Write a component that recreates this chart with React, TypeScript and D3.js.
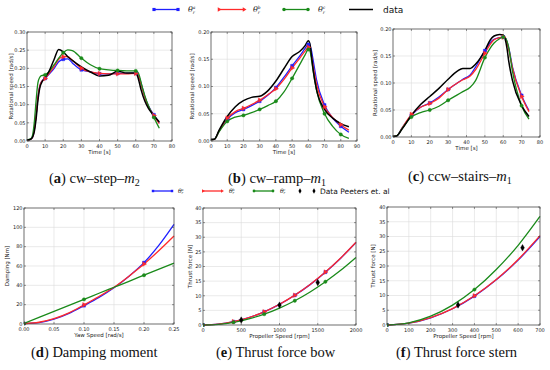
import React from 'react';
import * as d3 from 'd3';

// ---------- DATA ----------
const stepTime = [0, 2, 3, 4, 5, 6, 7, 8, 10, 12, 15, 17.5, 20, 22.5, 25, 30, 35, 40, 45, 50, 55, 60, 61, 62, 63, 65, 67, 70, 73];
const stepData = [0.003, 0.005, 0.01, 0.025, 0.06, 0.11, 0.145, 0.16, 0.175, 0.19, 0.225, 0.252, 0.245, 0.232, 0.222, 0.204, 0.19, 0.179, 0.181, 0.192, 0.187, 0.187, 0.178, 0.16, 0.14, 0.11, 0.09, 0.07, 0.052];
const stepThetaA = [0.002, 0.005, 0.01, 0.03, 0.07, 0.12, 0.15, 0.163, 0.172, 0.183, 0.2, 0.218, 0.225, 0.226, 0.215, 0.196, 0.19, 0.185, 0.185, 0.186, 0.186, 0.187, 0.183, 0.174, 0.158, 0.122, 0.097, 0.072, 0.05];
const stepThetaB = [0.002, 0.005, 0.01, 0.03, 0.07, 0.12, 0.15, 0.163, 0.172, 0.185, 0.205, 0.225, 0.232, 0.232, 0.222, 0.2, 0.19, 0.186, 0.185, 0.185, 0.185, 0.186, 0.182, 0.172, 0.155, 0.12, 0.095, 0.07, 0.048];
const stepThetaC = [0.003, 0.006, 0.015, 0.05, 0.11, 0.16, 0.175, 0.18, 0.182, 0.19, 0.21, 0.228, 0.243, 0.251, 0.249, 0.228, 0.21, 0.199, 0.196, 0.194, 0.193, 0.193, 0.19, 0.18, 0.16, 0.125, 0.097, 0.065, 0.035];

const rampTime = [0, 2, 5, 10, 15, 20, 25, 30, 35, 40, 45, 50, 55, 58, 60, 61, 62, 63, 65, 70, 75, 80, 85];
const rampData = [0.003, 0.003, 0.02, 0.045, 0.063, 0.074, 0.08, 0.082, 0.092, 0.11, 0.133, 0.155, 0.165, 0.175, 0.184, 0.178, 0.155, 0.13, 0.095, 0.058, 0.042, 0.032, 0.026];
const rampThetaA = [0.002, 0.003, 0.018, 0.04, 0.052, 0.058, 0.065, 0.073, 0.084, 0.098, 0.117, 0.138, 0.157, 0.17, 0.177, 0.175, 0.165, 0.148, 0.113, 0.066, 0.042, 0.027, 0.016];
const rampThetaB = [0.002, 0.003, 0.018, 0.042, 0.054, 0.06, 0.067, 0.075, 0.085, 0.096, 0.113, 0.134, 0.153, 0.165, 0.172, 0.168, 0.155, 0.137, 0.105, 0.063, 0.043, 0.03, 0.02];
const rampThetaC = [0.002, 0.003, 0.017, 0.036, 0.044, 0.047, 0.052, 0.058, 0.065, 0.073, 0.09, 0.115, 0.142, 0.158, 0.168, 0.165, 0.148, 0.128, 0.094, 0.05, 0.027, 0.012, 0.005];

const stairsTime = [0, 2, 5, 10, 15, 20, 25, 30, 35, 38, 42, 45, 50, 53, 55, 58, 60, 61, 62, 63, 65, 70, 74];
const stairsData = [0.001, 0.002, 0.015, 0.04, 0.06, 0.075, 0.09, 0.107, 0.122, 0.127, 0.127, 0.135, 0.16, 0.18, 0.187, 0.19, 0.189, 0.182, 0.165, 0.14, 0.105, 0.058, 0.038];
const stairsThetaA = [0.001, 0.002, 0.017, 0.04, 0.055, 0.063, 0.074, 0.088, 0.1, 0.107, 0.115, 0.13, 0.16, 0.175, 0.181, 0.184, 0.185, 0.184, 0.177, 0.165, 0.13, 0.077, 0.049];
const stairsThetaB = [0.001, 0.002, 0.017, 0.042, 0.055, 0.062, 0.072, 0.088, 0.1, 0.106, 0.113, 0.125, 0.155, 0.172, 0.18, 0.184, 0.185, 0.183, 0.175, 0.162, 0.128, 0.075, 0.047];
const stairsThetaC = [0.001, 0.002, 0.016, 0.037, 0.045, 0.05, 0.057, 0.068, 0.078, 0.084, 0.092, 0.105, 0.147, 0.165, 0.174, 0.182, 0.185, 0.184, 0.178, 0.165, 0.122, 0.058, 0.033];
const timeMarkers = [10, 20, 30, 40, 50, 60, 70, 80];

const dampSpeed = [0, 0.025, 0.05, 0.075, 0.1, 0.125, 0.15, 0.175, 0.2, 0.225, 0.25];
const dampThetaA = [0.5, 1.5, 5, 11, 19, 27.5, 37.5, 49.5, 63.5, 81.5, 103];
const dampThetaB = [0.5, 1.8, 5.5, 11.5, 19.8, 28.5, 38, 49.5, 62, 76, 91];
const dampThetaC = [0.5, 6.8, 13, 19.3, 25.5, 31.8, 38, 44.2, 50.5, 56.8, 63];
const dampMarkers = [0, 0.1, 0.2];

const bowRpm = [0, 200, 400, 600, 800, 1000, 1200, 1400, 1600, 1800, 2000];
const bowThetaA = [0, 0.28, 1.13, 2.53, 4.5, 7.05, 10.15, 13.8, 18.05, 22.85, 28.2];
const bowThetaB = [0, 0.28, 1.15, 2.55, 4.52, 7.08, 10.2, 13.85, 18.1, 22.9, 28.3];
const bowThetaC = [0, 0.23, 0.93, 2.1, 3.7, 5.8, 8.3, 11.3, 14.8, 18.7, 23.1];
const bowMarkers = [0, 400, 800, 1200, 1600];
const bowDataRpm = [500, 1000, 1500];
const bowDataThrust = [1.7, 6.8, 14.5];

const sternRpm = [0, 100, 200, 300, 400, 500, 600, 700];
const sternThetaA = [0, 0.61, 2.45, 5.5, 9.8, 15.3, 22.0, 30.0];
const sternThetaB = [0, 0.62, 2.5, 5.55, 9.9, 15.4, 22.2, 30.3];
const sternThetaC = [0, 0.75, 3.0, 6.75, 12.0, 18.8, 27.0, 36.8];
const sternMarkers = [0, 400];
const sternDataRpm = [325, 620];
const sternDataThrust = [6.8, 26.2];

const timeTicks80 = [0, 10, 20, 30, 40, 50, 60, 70, 80];
const timeTicks90 = [0, 10, 20, 30, 40, 50, 60, 70, 80, 90];
const speedTicks30 = [0, 0.05, 0.1, 0.15, 0.2, 0.25, 0.3];
const speedTicks20 = [0, 0.05, 0.1, 0.15, 0.2];
const yawTicks = [0, 0.05, 0.1, 0.15, 0.2, 0.25];
const dampTicks = [0, 20, 40, 60, 80, 100, 120];
const bowTicks = [0, 500, 1000, 1500, 2000];
const sternTicks = [0, 100, 200, 300, 400, 500, 600, 700];
const thrustTicks = [0, 5, 10, 15, 20, 25, 30, 35, 40];

// ---------- STYLE ----------
const BLUE = '#1f1fff';
const RED = '#ff2a2a';
const GREEN = '#1a8a1a';
const BLACK = '#000000';
const SANS = 'DejaVu Sans, sans-serif';
const SERIF = 'Liberation Serif, serif';

type Shape = 'square' | 'tri' | 'circle' | 'diamond';
type Series = {
  xs: number[];
  ys: number[];
  color: string;
  width?: number;
  line?: boolean;
  shape?: Shape;
  markAt?: number[];
};

function symbolPath(shape: Shape, size: number) {
  const t =
    shape === 'square' ? d3.symbolSquare :
    shape === 'circle' ? d3.symbolCircle :
    shape === 'diamond' ? d3.symbolDiamond : d3.symbolTriangle;
  return d3.symbol().type(t).size(size)() as string;
}

type PanelProps = {
  id: string;
  left: number; right: number; top: number; bottom: number;
  xDomain: [number, number]; yDomain: [number, number];
  xTicks: number[]; yTicks: number[];
  xFmt: (v: number) => string; yFmt: (v: number) => string;
  xLabel: string; yLabel: string; yLabelX: number;
  series: Series[];
};

function Panel(p: PanelProps) {
  const x = d3.scaleLinear().domain(p.xDomain).range([p.left, p.right]);
  const y = d3.scaleLinear().domain(p.yDomain).range([p.bottom, p.top]);
  const line = d3
    .line<number>()
    .x((_, i, arr) => 0)
    .curve(d3.curveMonotoneX);
  const mk = (s: Series) =>
    d3
      .line<[number, number]>()
      .x((d) => x(d[0]))
      .y((d) => y(d[1]))
      .curve(d3.curveMonotoneX)(s.xs.map((v, i) => [v, s.ys[i]] as [number, number])) as string;
  void line;
  const cx = (p.left + p.right) / 2;
  const cy = (p.top + p.bottom) / 2;
  return (
    <g>
      <defs>
        <clipPath id={'clip-' + p.id}>
          <rect x={p.left} y={p.top - 3} width={p.right - p.left + 3} height={p.bottom - p.top + 6} />
        </clipPath>
      </defs>
      <rect x={p.left} y={p.top} width={p.right - p.left} height={p.bottom - p.top} fill="#fff" />
      {p.xTicks.map((t) => (
        <line key={'gx' + t} x1={x(t)} x2={x(t)} y1={p.top} y2={p.bottom} stroke="#dcdcdc" strokeWidth={0.6} />
      ))}
      {p.yTicks.map((t) => (
        <line key={'gy' + t} x1={p.left} x2={p.right} y1={y(t)} y2={y(t)} stroke="#dcdcdc" strokeWidth={0.6} />
      ))}
      <g clipPath={`url(#clip-${p.id})`}>
        {p.series.map((s, i) =>
          s.line === false ? null : (
            <path key={'l' + i} d={mk(s)} fill="none" stroke={s.color} strokeWidth={s.width ?? 1.3} strokeLinejoin="round" />
          )
        )}
        {p.series.map((s, i) =>
          s.shape
            ? (s.markAt ?? s.xs).map((mx, j) => {
                const idx = s.xs.indexOf(mx);
                if (idx < 0) return null;
                const px = x(mx);
                const py = y(s.ys[idx]);
                const rot = s.shape === 'tri' ? ` rotate(90)` : '';
                return (
                  <path
                    key={'m' + i + '-' + j}
                    d={symbolPath(s.shape as Shape, s.shape === 'diamond' ? 12 : 9)}
                    transform={`translate(${px},${py})${rot}`}
                    fill={s.color}
                    stroke={s.color}
                    strokeWidth={0.4}
                  />
                );
              })
            : null
        )}
      </g>
      {p.xTicks.map((t) => (
        <g key={'tx' + t}>
          <line x1={x(t)} x2={x(t)} y1={p.bottom} y2={p.bottom - 2} stroke="#333" strokeWidth={0.5} />
          <line x1={x(t)} x2={x(t)} y1={p.top} y2={p.top + 2} stroke="#333" strokeWidth={0.5} />
          <text x={x(t)} y={p.bottom + 6.5} fontSize={5} fontFamily={SANS} textAnchor="middle" fill="#222">
            {p.xFmt(t)}
          </text>
        </g>
      ))}
      {p.yTicks.map((t) => (
        <g key={'ty' + t}>
          <line x1={p.left} x2={p.left + 2} y1={y(t)} y2={y(t)} stroke="#333" strokeWidth={0.5} />
          <line x1={p.right} x2={p.right - 2} y1={y(t)} y2={y(t)} stroke="#333" strokeWidth={0.5} />
          <text x={p.left - 1.5} y={y(t) + 1.8} fontSize={5} fontFamily={SANS} textAnchor="end" fill="#222">
            {p.yFmt(t)}
          </text>
        </g>
      ))}
      <rect x={p.left} y={p.top} width={p.right - p.left} height={p.bottom - p.top} fill="none" stroke="#444" strokeWidth={0.7} />
      <text x={cx} y={p.bottom + 12.5} fontSize={5.5} fontFamily={SANS} textAnchor="middle" fill="#222">
        {p.xLabel}
      </text>
      <text
        transform={`translate(${p.yLabelX},${cy}) rotate(-90)`}
        fontSize={5.5}
        fontFamily={SANS}
        textAnchor="middle"
        dominantBaseline="middle"
        fill="#222"
      >
        {p.yLabel}
      </text>
    </g>
  );
}

function Theta({ x, y, sup, size }: { x: number; y: number; sup: string; size: number }) {
  return (
    <g fontFamily="DejaVu Serif, serif" fontStyle="italic" fill="#222">
      <text x={x} y={y + size * 0.35} fontSize={size}>θ</text>
      <text x={x + size * 0.6} y={y - size * 0.05} fontSize={size * 0.55}>{sup}</text>
      <text x={x + size * 0.6} y={y + size * 0.55} fontSize={size * 0.55}>r</text>
    </g>
  );
}

function LegendLine({ x1, x2, y, color, shape, ms }: { x1: number; x2: number; y: number; color: string; shape: Shape; ms: number }) {
  const rot = shape === 'tri' ? ' rotate(90)' : '';
  return (
    <g>
      <line x1={x1} x2={x2} y1={y} y2={y} stroke={color} strokeWidth={1.3} />
      {[x1, x2].map((px) => (
        <path key={px} d={symbolPath(shape, ms)} transform={`translate(${px},${y})${rot}`} fill={color} />
      ))}
    </g>
  );
}

function Caption({ x, y, letter, text, sub }: { x: number; y: number; letter: string; text: string; sub?: string }) {
  return (
    <text x={x} y={y} fontFamily={SERIF} fontSize={14.5} fill="#111">
      (<tspan fontWeight="bold">{letter}</tspan>) {text}
      {sub ? (
        <>
          <tspan fontStyle="italic">m</tspan>
          <tspan fontSize={10} dy={3}>{sub}</tspan>
        </>
      ) : null}
    </text>
  );
}

const f2 = (v: number) => v.toFixed(2);
const f0 = (v: number) => String(v);

export default function App() {
  const timeSeries = (xs: number[], data: number[], a: number[], b: number[], c: number[]): Series[] => [
    { xs, ys: a, color: BLUE, shape: 'square', markAt: timeMarkers },
    { xs, ys: b, color: RED, shape: 'tri', markAt: timeMarkers },
    { xs, ys: c, color: GREEN, shape: 'circle', markAt: timeMarkers },
    { xs, ys: data, color: BLACK, width: 1.5 },
  ];
  return (
    <svg width={550} height={370} style={{ display: 'block', position: 'absolute', left: 0, top: 0 }}>
      <rect width={550} height={370} fill="#fff" />
      {/* top legend */}
      <LegendLine x1={154} x2={178} y={9.5} color={BLUE} shape="square" ms={10} />
      <Theta x={188} y={9.5} sup="a" size={8} />
      <LegendLine x1={219} x2={244} y={9.5} color={RED} shape="tri" ms={8} />
      <Theta x={253} y={9.5} sup="b" size={8} />
      <LegendLine x1={284} x2={308} y={9.5} color={GREEN} shape="circle" ms={10} />
      <Theta x={318} y={9.5} sup="c" size={8} />
      <line x1={349} x2={373} y1={9.5} y2={9.5} stroke={BLACK} strokeWidth={1.5} />
      <text x={383} y={12.5} fontSize={9} fontFamily={SANS} fill="#111">data</text>

      <Panel
        id="a" left={27} right={172} top={32} bottom={141}
        xDomain={[0, 80]} yDomain={[0, 0.3]} xTicks={timeTicks80} yTicks={speedTicks30}
        xFmt={f0} yFmt={f2} xLabel="Time [s]" yLabel="Rotational speed [rad/s]" yLabelX={11}
        series={timeSeries(stepTime, stepData, stepThetaA, stepThetaB, stepThetaC)}
      />
      <Panel
        id="b" left={211} right={357} top={32} bottom={141}
        xDomain={[0, 90]} yDomain={[0, 0.2]} xTicks={timeTicks90} yTicks={speedTicks20}
        xFmt={f0} yFmt={f2} xLabel="Time [s]" yLabel="Rotational speed [rad/s]" yLabelX={192}
        series={timeSeries(rampTime, rampData, rampThetaA, rampThetaB, rampThetaC)}
      />
      <Panel
        id="c" left={393} right={540} top={29} bottom={137}
        xDomain={[0, 80]} yDomain={[0, 0.2]} xTicks={timeTicks80} yTicks={speedTicks20}
        xFmt={f0} yFmt={f2} xLabel="Time [s]" yLabel="Rotational speed [rad/s]" yLabelX={375}
        series={timeSeries(stairsTime, stairsData, stairsThetaA, stairsThetaB, stairsThetaC)}
      />

      <Caption x={49} y={183} letter="a" text="cw–step–" sub="2" />
      <Caption x={228} y={183} letter="b" text="cw–ramp–" sub="1" />
      <Caption x={408} y={181} letter="c" text="ccw–stairs–" sub="1" />

      {/* second legend */}
      <LegendLine x1={153} x2={172} y={191} color={BLUE} shape="square" ms={6} />
      <Theta x={178} y={191} sup="a" size={6} />
      <LegendLine x1={203} x2={222} y={191} color={RED} shape="tri" ms={5} />
      <Theta x={229} y={191} sup="b" size={6} />
      <LegendLine x1={254} x2={273} y={191} color={GREEN} shape="circle" ms={6} />
      <Theta x={280} y={191} sup="c" size={6} />
      {[300, 314].map((px) => (
        <path key={px} d={symbolPath('diamond', 8)} transform={`translate(${px},191)`} fill={BLACK} />
      ))}
      <text x={320} y={193.5} fontSize={7.5} fontFamily={SANS} fill="#111">Data Peeters et. al</text>

      <Panel
        id="d" left={24} right={174} top={208} bottom={324}
        xDomain={[0, 0.25]} yDomain={[0, 120]} xTicks={yawTicks} yTicks={dampTicks}
        xFmt={f2} yFmt={f0} xLabel="Yaw Speed [rad/s]" yLabel="Damping [Nm]" yLabelX={7}
        series={[
          { xs: dampSpeed, ys: dampThetaA, color: BLUE, shape: 'square', markAt: dampMarkers },
          { xs: dampSpeed, ys: dampThetaB, color: RED, shape: 'tri', markAt: dampMarkers },
          { xs: dampSpeed, ys: dampThetaC, color: GREEN, shape: 'circle', markAt: dampMarkers },
        ]}
      />
      <Panel
        id="e" left={203} right={356} top={208} bottom={325}
        xDomain={[0, 2000]} yDomain={[0, 40]} xTicks={bowTicks} yTicks={thrustTicks}
        xFmt={f0} yFmt={f0} xLabel="Propeller Speed [rpm]" yLabel="Thrust force [N]" yLabelX={190}
        series={[
          { xs: bowRpm, ys: bowThetaA, color: BLUE, shape: 'square', markAt: bowMarkers },
          { xs: bowRpm, ys: bowThetaB, color: RED, shape: 'tri', markAt: bowMarkers },
          { xs: bowRpm, ys: bowThetaC, color: GREEN, shape: 'circle', markAt: bowMarkers },
          { xs: bowDataRpm, ys: bowDataThrust, color: BLACK, shape: 'diamond', line: false },
        ]}
      />
      <Panel
        id="f" left={387} right={540} top={207} bottom={325}
        xDomain={[0, 700]} yDomain={[0, 40]} xTicks={sternTicks} yTicks={thrustTicks}
        xFmt={f0} yFmt={f0} xLabel="Propeller Speed [rpm]" yLabel="Thrust force [N]" yLabelX={373}
        series={[
          { xs: sternRpm, ys: sternThetaA, color: BLUE, shape: 'square', markAt: sternMarkers },
          { xs: sternRpm, ys: sternThetaB, color: RED, shape: 'tri', markAt: sternMarkers },
          { xs: sternRpm, ys: sternThetaC, color: GREEN, shape: 'circle', markAt: sternMarkers },
          { xs: sternDataRpm, ys: sternDataThrust, color: BLACK, shape: 'diamond', line: false },
        ]}
      />

      <Caption x={31} y={357} letter="d" text="Damping moment" />
      <Caption x={216} y={357} letter="e" text="Thrust force bow" />
      <Caption x={396} y={357} letter="f" text="Thrust force stern" />
    </svg>
  );
}
